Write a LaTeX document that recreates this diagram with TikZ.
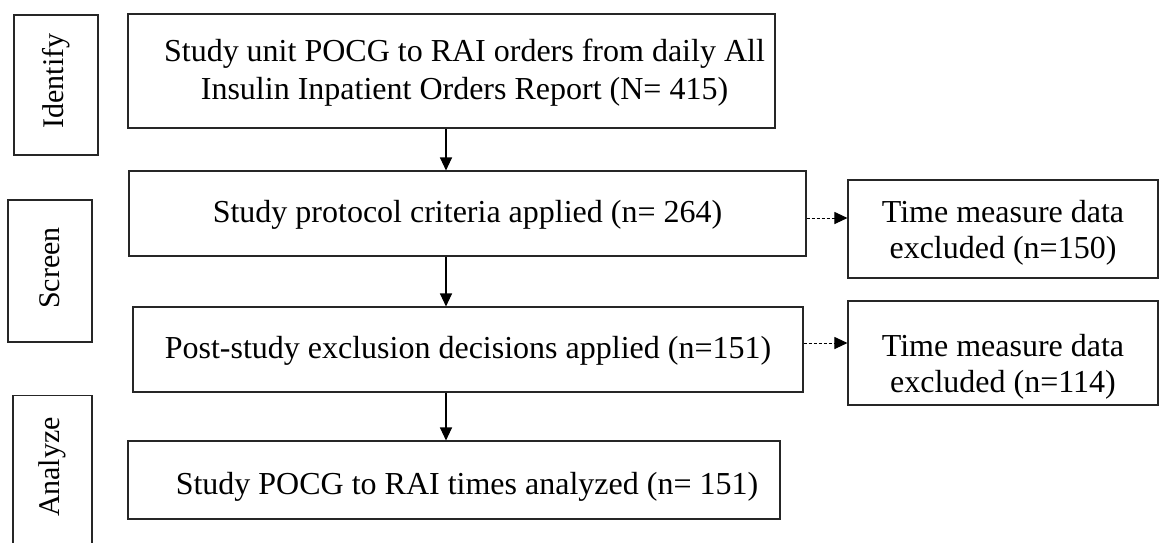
\documentclass[tikz,border=0pt]{standalone}
\usepackage{fontspec}
\setmainfont{Liberation Serif}
\usetikzlibrary{arrows.meta}
% indents a centred line a little to the right
\newcommand{\rind}{\hspace*{26pt}}
\begin{document}
\begin{tikzpicture}[x=1pt,y=-1pt,
  box/.style={draw=black!85, line width=1.1pt, rectangle, inner sep=0pt, align=center,
    font=\fontsize{32}{36}\selectfont, text depth=8pt},
  sidebox/.style={draw=black!85, line width=1.1pt, rectangle, inner sep=0pt},
  sidelabel/.style={rotate=90, inner sep=0pt, font=\fontsize{30}{36}\selectfont},
  tip/.style={-{Triangle[length=13pt,width=12pt]}},
  arr/.style={line width=1.1pt, tip},
  dasharr/.style={line width=1pt, dash pattern=on 3pt off 2pt, tip}]
\useasboundingbox (0,0) rectangle (1160,542);

% phase boxes on the left
\node[sidebox, minimum width=84, minimum height=140] (identify) at (56,85) {};
\node[sidelabel] (identifylbl) at (56,81) {Identify};
\node[sidebox, minimum width=84, minimum height=142] (screen) at (50,271) {};
\node[sidelabel] (screenlbl) at (50,268) {Screen};
\node[sidebox, minimum width=79, minimum height=170, anchor=north] (analyze) at (52.5,395) {};
\node[sidelabel] (analyzelbl) at (52.5,467) {Analyze};

% main flow
\node[box, font=\fontsize{32}{38}\selectfont, minimum width=647, minimum height=114, text height=64pt] (orders) at (451.5,71)
  {\rind Study unit POCG to RAI orders from daily All\\\rind Insulin Inpatient Orders Report (N= 415)};
\node[box, minimum width=677, minimum height=85, text height=26pt] (protocol) at (467.5,213.5)
  {Study protocol criteria applied (n= 264)};
\node[box, minimum width=670, minimum height=85, text height=25pt] (post) at (468,349.5)
  {Post-study exclusion decisions applied (n=151)};
\node[box, minimum width=652, minimum height=78, text height=36pt] (analyzed) at (454,480)
  {\rind Study POCG to RAI times analyzed (n= 151)};

% exclusions
\node[box, minimum width=310, minimum height=98, text height=66pt] (excl1) at (1003,229)
  {Time measure data\\excluded (n=150)};
\node[box, minimum width=310, minimum height=104, text height=86pt] (excl2) at (1003,353)
  {Time measure data\\excluded (n=114)};

% connectors
\coordinate (spine) at (446,0);
\draw[arr] (orders.south -| spine) -- (protocol.north -| spine);
\draw[arr] (protocol.south -| spine) -- (post.north -| spine);
\draw[arr] (post.south -| spine) -- (analyzed.north -| spine);
\coordinate (d1) at (0,218);
\coordinate (d2) at (0,343);
\draw[dasharr] (protocol.east |- d1) -- (excl1.west |- d1);
\draw[dasharr] (post.east |- d2) -- (excl2.west |- d2);
\end{tikzpicture}
\end{document}
